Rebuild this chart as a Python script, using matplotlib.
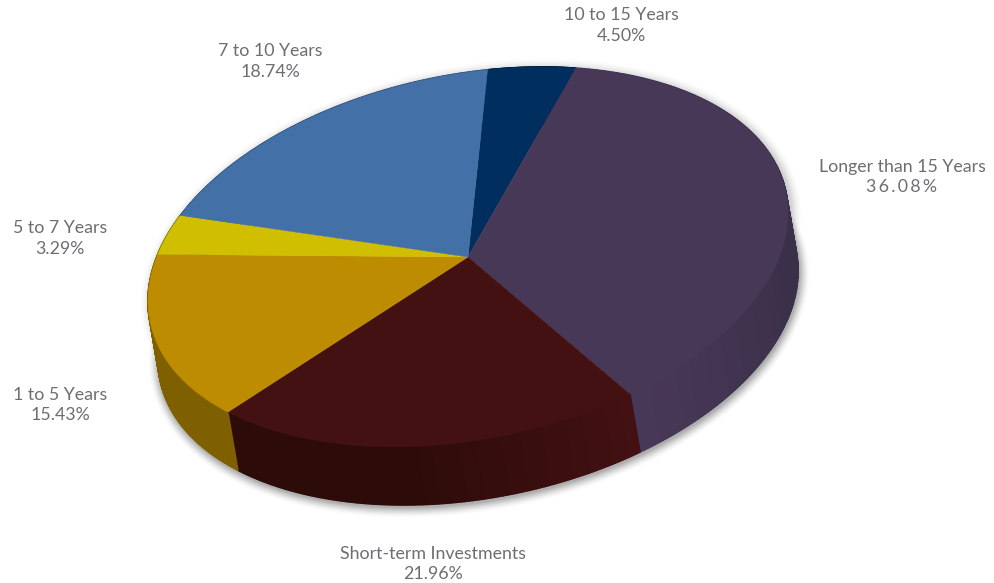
import numpy as np
import matplotlib
matplotlib.use("Agg")
import matplotlib.pyplot as plt
from matplotlib.collections import PolyCollection
from matplotlib.patches import Polygon

plt.rcParams['font.family'] = ['Lato', 'DejaVu Sans']

# Portfolio split by maturity, clockwise from the top of the pie
categories = ["10 to 15 Years", "Longer than 15 Years", "Short-term Investments",
              "1 to 5 Years", "5 to 7 Years", "7 to 10 Years"]
shares = [4.50, 36.08, 21.96, 15.43, 3.29, 18.74]
share_labels = ["4.50%", "36.08%", "21.96%", "15.43%", "3.29%", "18.74%"]

top_colors = ["#002e5f", "#483857", "#441113", "#bd8c00", "#cfbf00", "#4470a8"]
side_dark = ["#001f40", "#3b3049", "#2c0b08", "#7f6000", "#8a8000", "#2e4b70"]

label_xy = [(621, 25.5), (902, 177), (433, 564), (60, 405), (60, 238.5), (270, 61.5)]

# Tilted ellipse of the pie's top face and the extrusion of its rim
CENTER = np.array([468.0, 257.0])
RIM_AXES = np.array([[320.0, -44.0], [0.0, -184.8]])
DEPTH = np.array([10.0, 58.0])
START_ANGLE = 86.5
BRIGHT_ANGLE = -58.0   # where the side wall catches the most light


def rim(angles_deg):
    t = np.radians(angles_deg)
    return CENTER + np.column_stack([np.cos(t), np.sin(t)]) @ RIM_AXES


def mix(c0, c1, f):
    a = np.array(matplotlib.colors.to_rgb(c0))
    b = np.array(matplotlib.colors.to_rgb(c1))
    return tuple(a + (b - a) * f)


fig = plt.figure(figsize=(9.94, 5.83), dpi=100, facecolor="white")
ax = fig.add_axes([0, 0, 1, 1])
ax.set_xlim(0, 994)
ax.set_ylim(583, 0)
ax.axis("off")

edges = START_ANGLE - np.concatenate([[0.0], np.cumsum(shares)]) * 360.0 / sum(shares)

# Soft drop shadow built from widening translucent outlines of the silhouette
outer = rim(np.linspace(0, 360, 361))
for lw, alpha in zip(np.arange(15, 0.5, -1.5), np.linspace(0.012, 0.06, 10)):
    for shift, weight in ((DEPTH + (1, 2), 1.0), ((3, 2), 0.5)):
        ax.add_patch(Polygon(outer + shift, closed=True, facecolor="none",
                             edgecolor="#000000", alpha=alpha * weight, lw=lw))

# Side wall: thin shaded strips between the top rim and its extruded copy
quads, colors = [], []
for i in range(len(shares)):
    t = np.linspace(edges[i], edges[i + 1], 160)
    p = rim(t)
    for j in range(len(t) - 1):
        quads.append([p[j], p[j + 1], p[j + 1] + DEPTH, p[j] + DEPTH])
        s = np.clip(1 - abs(t[j] - BRIGHT_ANGLE) / 45.0, 0, 1)
        colors.append(mix(side_dark[i], top_colors[i], s))
ax.add_collection(PolyCollection(quads, facecolors=colors, edgecolors=colors, linewidths=1.2))

# Top face, one wedge per share
for i in range(len(shares)):
    t = np.linspace(edges[i], edges[i + 1], 120)
    ax.add_patch(Polygon(np.vstack([CENTER, rim(t)]), closed=True,
                         facecolor=top_colors[i], edgecolor=top_colors[i], lw=0.3))

# Two-line labels; the largest share carries wider letter spacing
for name, value, (x, y) in zip(categories, share_labels, label_xy):
    shown = "\u2009".join(value) if name.startswith("Longer") else value
    ax.text(x, y, f"{name}\n{shown}", ha="center", va="center", fontsize=12.8,
            color="#6d6e71", linespacing=1.38)

fig.savefig("out.png", dpi=100)
